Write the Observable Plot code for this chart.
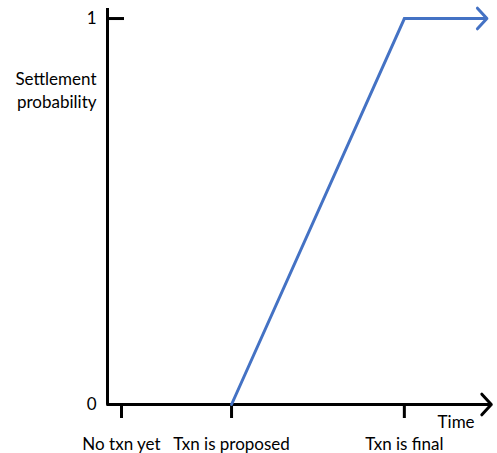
<!DOCTYPE html>
<html>
<head>
<meta charset="utf-8">
<script src="https://cdn.jsdelivr.net/npm/d3@7"></script>
<script src="https://cdn.jsdelivr.net/npm/@observablehq/plot@0.6"></script>
<style>
  html, body { margin: 0; padding: 0; background: #fff; }
  svg { display: block; }
</style>
</head>
<body>
<div id="chart"></div>
<script>
// Milestones on the time axis
const milestones = ["No txn yet", "Txn is proposed", "Txn is final"];
const milestoneTimes = [0, 1, 2.57];
// Settlement probability curve
const curveTimes = [1, 2.57];
const curveValues = [0, 1];
// Horizontal continuation after finality (arrow)
const finalTimes = [2.57, 3.32];
const finalValues = [1, 1];
// Axis extents
const timeDomain = [-0.127, 3.38];
const probDomain = [0, 1.026];
const probTicks = [0, 1];
const yLabel = "Settlement\nprobability";
const yLabelPos = { x: -0.127, y: 0.818 };
const xLabel = "Time";
const xLabelPos = { x: 3.04, y: -0.047 };

const blue = "#4472C4";

const curve = curveTimes.map((t, i) => ({ t, p: curveValues[i] }));

const chart = Plot.plot({
  width: 497,
  height: 453,
  marginLeft: 107,
  marginRight: 4,
  marginTop: 8,
  marginBottom: 49,
  style: { fontFamily: "Lato, sans-serif", fontSize: "17px", color: "#000", background: "#fff" },
  x: { domain: timeDomain },
  y: { domain: probDomain },
  marks: [
    // y axis line
    Plot.ruleX([timeDomain[0]], { stroke: "#000", strokeWidth: 3 }),
    // y ticks (inside) and labels
    Plot.axisY({ ticks: probTicks, tickSize: 17, dx: 17, tickPadding: 11, strokeWidth: 3, fontSize: 17, label: null, tickFormat: d => String(d) }),
    // x ticks and milestone labels
    Plot.axisX({ ticks: milestoneTimes, tickSize: 14, tickPadding: 19, strokeWidth: 3, fontSize: 17, label: null,
      tickFormat: d => milestones[milestoneTimes.indexOf(d)] }),
    // x axis with arrow
    Plot.arrow([{ x1: timeDomain[0], x2: timeDomain[1] - 0.02, y: 0 }], {
      x1: "x1", x2: "x2", y1: "y", y2: "y", stroke: "#000", strokeWidth: 3, headLength: 7, headAngle: 95
    }),
    // probability curve
    Plot.line(curve, { x: "t", y: "p", stroke: blue, strokeWidth: 3 }),
    Plot.arrow([{ x1: finalTimes[0], x2: finalTimes[1], y1: finalValues[0], y2: finalValues[1] }], {
      x1: "x1", x2: "x2", y1: "y1", y2: "y2", stroke: blue, strokeWidth: 3, headLength: 7, headAngle: 95
    }),
    // labels
    Plot.text([yLabel], { x: () => yLabelPos.x, y: () => yLabelPos.y, text: d => d, textAnchor: "end", dx: -11, lineHeight: 1.35, fontSize: 17 }),
    Plot.text([xLabel], { x: () => xLabelPos.x, y: () => xLabelPos.y, text: d => d, fontSize: 17 })
  ]
});
document.getElementById("chart").appendChild(chart);
</script>
</body>
</html>
